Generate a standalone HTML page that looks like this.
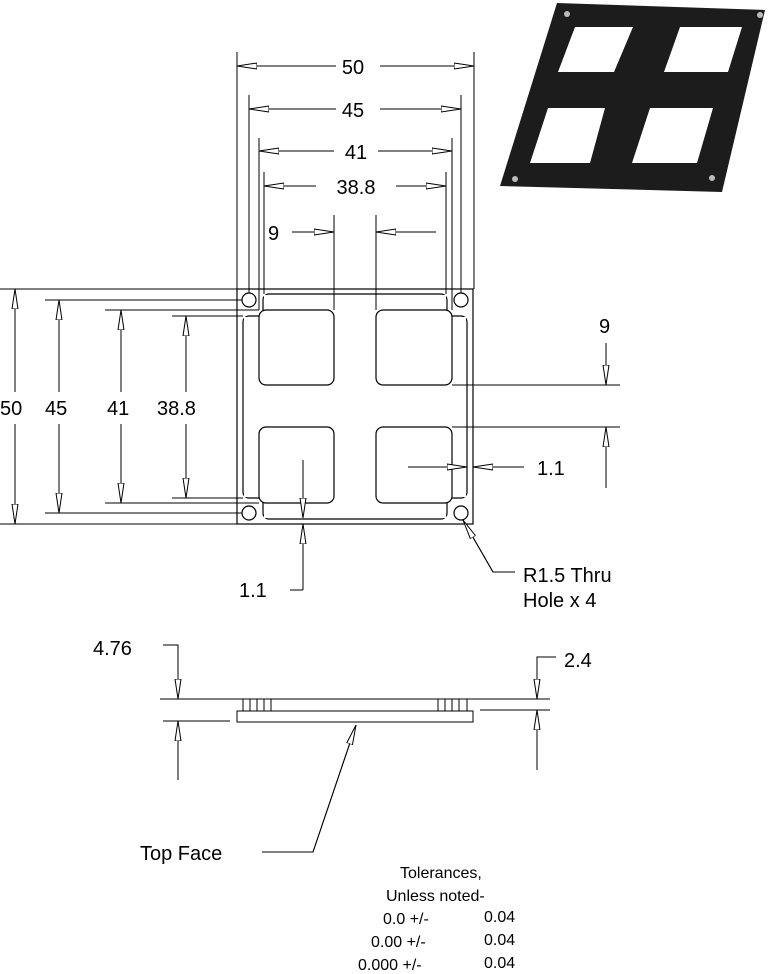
<!DOCTYPE html>
<html><head><meta charset="utf-8"><style>
html,body{margin:0;padding:0;background:#fff;width:777px;height:974px;overflow:hidden}
svg{display:block}
text{font-family:"Liberation Sans",sans-serif;fill:#000}
</style></head><body>
<svg width="777" height="974" viewBox="0 0 777 974" xmlns="http://www.w3.org/2000/svg">
<defs>
<marker id="a" viewBox="0 0 20 8" refX="20" refY="4" markerWidth="20" markerHeight="8" markerUnits="userSpaceOnUse" orient="auto-start-reverse">
<path d="M0,1 L20,4 L0,7 Z" fill="#fff" stroke="#000" stroke-width="1"/>
</marker>
</defs>
<!-- 3D image -->
<polygon points="557,3 765,10 722,192 500,186" fill="#1c1c1c"/>
<polygon points="575,27 633,27 614,72 558,72" fill="#fff"/>
<polygon points="680,27 742,27 728,72 664,72" fill="#fff"/>
<polygon points="548,108 605,108 590,163 530,163" fill="#fff"/>
<polygon points="650,108 713,108 697,163 632,163" fill="#fff"/>
<g fill="#bbb"><circle cx="567" cy="14" r="3"/><circle cx="760" cy="15" r="3"/><circle cx="515" cy="179" r="3"/><circle cx="712" cy="178" r="3"/></g>

<g stroke="#000" stroke-width="1.2" fill="none">
<!-- plate -->
<rect x="237" y="289" width="236" height="235"/>
<circle cx="249" cy="300" r="7"/><circle cx="461" cy="300" r="7"/>
<circle cx="249" cy="513" r="7"/><circle cx="461" cy="513" r="7"/>
<rect x="263" y="294" width="184" height="24" rx="6"/>
<rect x="263" y="495" width="184" height="24" rx="6"/>
<rect x="243" y="316" width="24" height="182" rx="6"/>
<rect x="443" y="316" width="24" height="182" rx="6"/>
<rect x="264" y="295" width="182" height="223" fill="#fff" stroke="none"/>
<rect x="244" y="317" width="222" height="180" fill="#fff" stroke="none"/>
<rect x="259" y="310" width="75" height="75" rx="7" fill="#fff"/>
<rect x="376" y="310" width="76" height="75" rx="7" fill="#fff"/>
<rect x="259" y="427" width="75" height="76" rx="7" fill="#fff"/>
<rect x="376" y="427" width="76" height="76" rx="7" fill="#fff"/>
</g>
<g stroke="#000" stroke-width="1" fill="none">
<line x1="237" y1="52" x2="237" y2="289"/><line x1="474" y1="52" x2="474" y2="289"/>
<line x1="249" y1="95" x2="249" y2="293"/><line x1="461" y1="95" x2="461" y2="293"/>
<line x1="259" y1="138" x2="259" y2="310"/><line x1="452" y1="138" x2="452" y2="310"/>
<line x1="264" y1="172" x2="264" y2="294"/><line x1="446" y1="172" x2="446" y2="294"/>
<line x1="334" y1="215" x2="334" y2="310"/><line x1="376" y1="215" x2="376" y2="310"/>
<line x1="237" y1="66" x2="336" y2="66" marker-start="url(#a)"/><line x1="380" y1="66" x2="474" y2="66" marker-end="url(#a)"/>
<line x1="249" y1="109" x2="336" y2="109" marker-start="url(#a)"/><line x1="380" y1="109" x2="461" y2="109" marker-end="url(#a)"/>
<line x1="259" y1="151" x2="334" y2="151" marker-start="url(#a)"/><line x1="378" y1="151" x2="452" y2="151" marker-end="url(#a)"/>
<line x1="264" y1="186" x2="316" y2="186" marker-start="url(#a)"/><line x1="396" y1="186" x2="446" y2="186" marker-end="url(#a)"/>
<line x1="292" y1="232" x2="334" y2="232" marker-end="url(#a)"/><line x1="436" y1="232" x2="376" y2="232" marker-end="url(#a)"/>
<line x1="0" y1="289" x2="237" y2="289"/><line x1="0" y1="524" x2="237" y2="524"/>
<line x1="45" y1="300" x2="242" y2="300"/><line x1="45" y1="513" x2="242" y2="513"/>
<line x1="105" y1="310" x2="259" y2="310"/><line x1="105" y1="503" x2="259" y2="503"/>
<line x1="172" y1="316" x2="243" y2="316"/><line x1="172" y1="498" x2="243" y2="498"/>
<line x1="15" y1="289" x2="15" y2="392" marker-start="url(#a)"/><line x1="15" y1="424" x2="15" y2="524" marker-end="url(#a)"/>
<line x1="59" y1="300" x2="59" y2="392" marker-start="url(#a)"/><line x1="59" y1="424" x2="59" y2="513" marker-end="url(#a)"/>
<line x1="121" y1="310" x2="121" y2="392" marker-start="url(#a)"/><line x1="121" y1="424" x2="121" y2="503" marker-end="url(#a)"/>
<line x1="186" y1="316" x2="186" y2="392" marker-start="url(#a)"/><line x1="186" y1="424" x2="186" y2="498" marker-end="url(#a)"/>
<line x1="452" y1="385" x2="620" y2="385"/><line x1="452" y1="427" x2="620" y2="427"/>
<line x1="606" y1="343" x2="606" y2="385" marker-end="url(#a)"/><line x1="606" y1="488" x2="606" y2="427" marker-end="url(#a)"/>
<line x1="408" y1="467" x2="467" y2="467" marker-end="url(#a)"/><line x1="524" y1="467" x2="473" y2="467" marker-end="url(#a)"/>
<line x1="303" y1="460" x2="303" y2="518" marker-end="url(#a)"/><line x1="303" y1="590" x2="303" y2="524" marker-end="url(#a)"/>
<line x1="290" y1="590" x2="303" y2="590"/>
<polyline points="515,572 493,572 463,520"/>
<line x1="493" y1="572" x2="463" y2="520" marker-end="url(#a)"/>
<line x1="160" y1="699" x2="550" y2="699"/>
<line x1="163" y1="721" x2="230" y2="721"/>
<line x1="480" y1="710" x2="550" y2="710"/>
<rect x="237" y="711" width="236" height="11"/>
<rect x="243" y="699" width="28" height="12"/><line x1="250" y1="699" x2="250" y2="711"/><line x1="257" y1="699" x2="257" y2="711"/><line x1="264" y1="699" x2="264" y2="711"/>
<rect x="438" y="699" width="29" height="12"/><line x1="445" y1="699" x2="445" y2="711"/><line x1="452" y1="699" x2="452" y2="711"/><line x1="459" y1="699" x2="459" y2="711"/>
<polyline points="163,645 178,645 178,699"/>
<line x1="178" y1="645" x2="178" y2="699" marker-end="url(#a)"/>
<line x1="178" y1="780" x2="178" y2="721" marker-end="url(#a)"/>
<polyline points="556,657 537,657 537,699"/>
<line x1="537" y1="657" x2="537" y2="699" marker-end="url(#a)"/>
<line x1="537" y1="770" x2="537" y2="710" marker-end="url(#a)"/>
<polyline points="262,852 313,852 356,725"/>
<line x1="313" y1="852" x2="356" y2="725" marker-end="url(#a)"/>
</g>
<g font-size="20">
<text x="353" y="74" text-anchor="middle">50</text>
<text x="353" y="117" text-anchor="middle">45</text>
<text x="356" y="159" text-anchor="middle">41</text>
<text x="356" y="194" text-anchor="middle">38.8</text>
<text x="268" y="240">9</text>
<text x="0" y="415">50</text>
<text x="45" y="415">45</text>
<text x="107" y="415">41</text>
<text x="157" y="415">38.8</text>
<text x="599" y="333">9</text>
<text x="537" y="475">1.1</text>
<text x="239" y="597">1.1</text>
<text x="523" y="582">R1.5   Thru</text>
<text x="523" y="607">Hole x 4</text>
<text x="93" y="655">4.76</text>
<text x="564" y="667">2.4</text>
<text x="140" y="860">Top Face</text>
</g>
<g font-size="16">
<text x="400" y="878">Tolerances,</text>
<text x="386" y="901">Unless noted-</text>
<text x="383" y="924">0.0 +/-</text><text x="484" y="922">0.04</text>
<text x="371" y="947">0.00 +/-</text><text x="484" y="945">0.04</text>
<text x="358" y="970">0.000 +/-</text><text x="484" y="968">0.04</text>
</g>
</svg>
</body></html>
